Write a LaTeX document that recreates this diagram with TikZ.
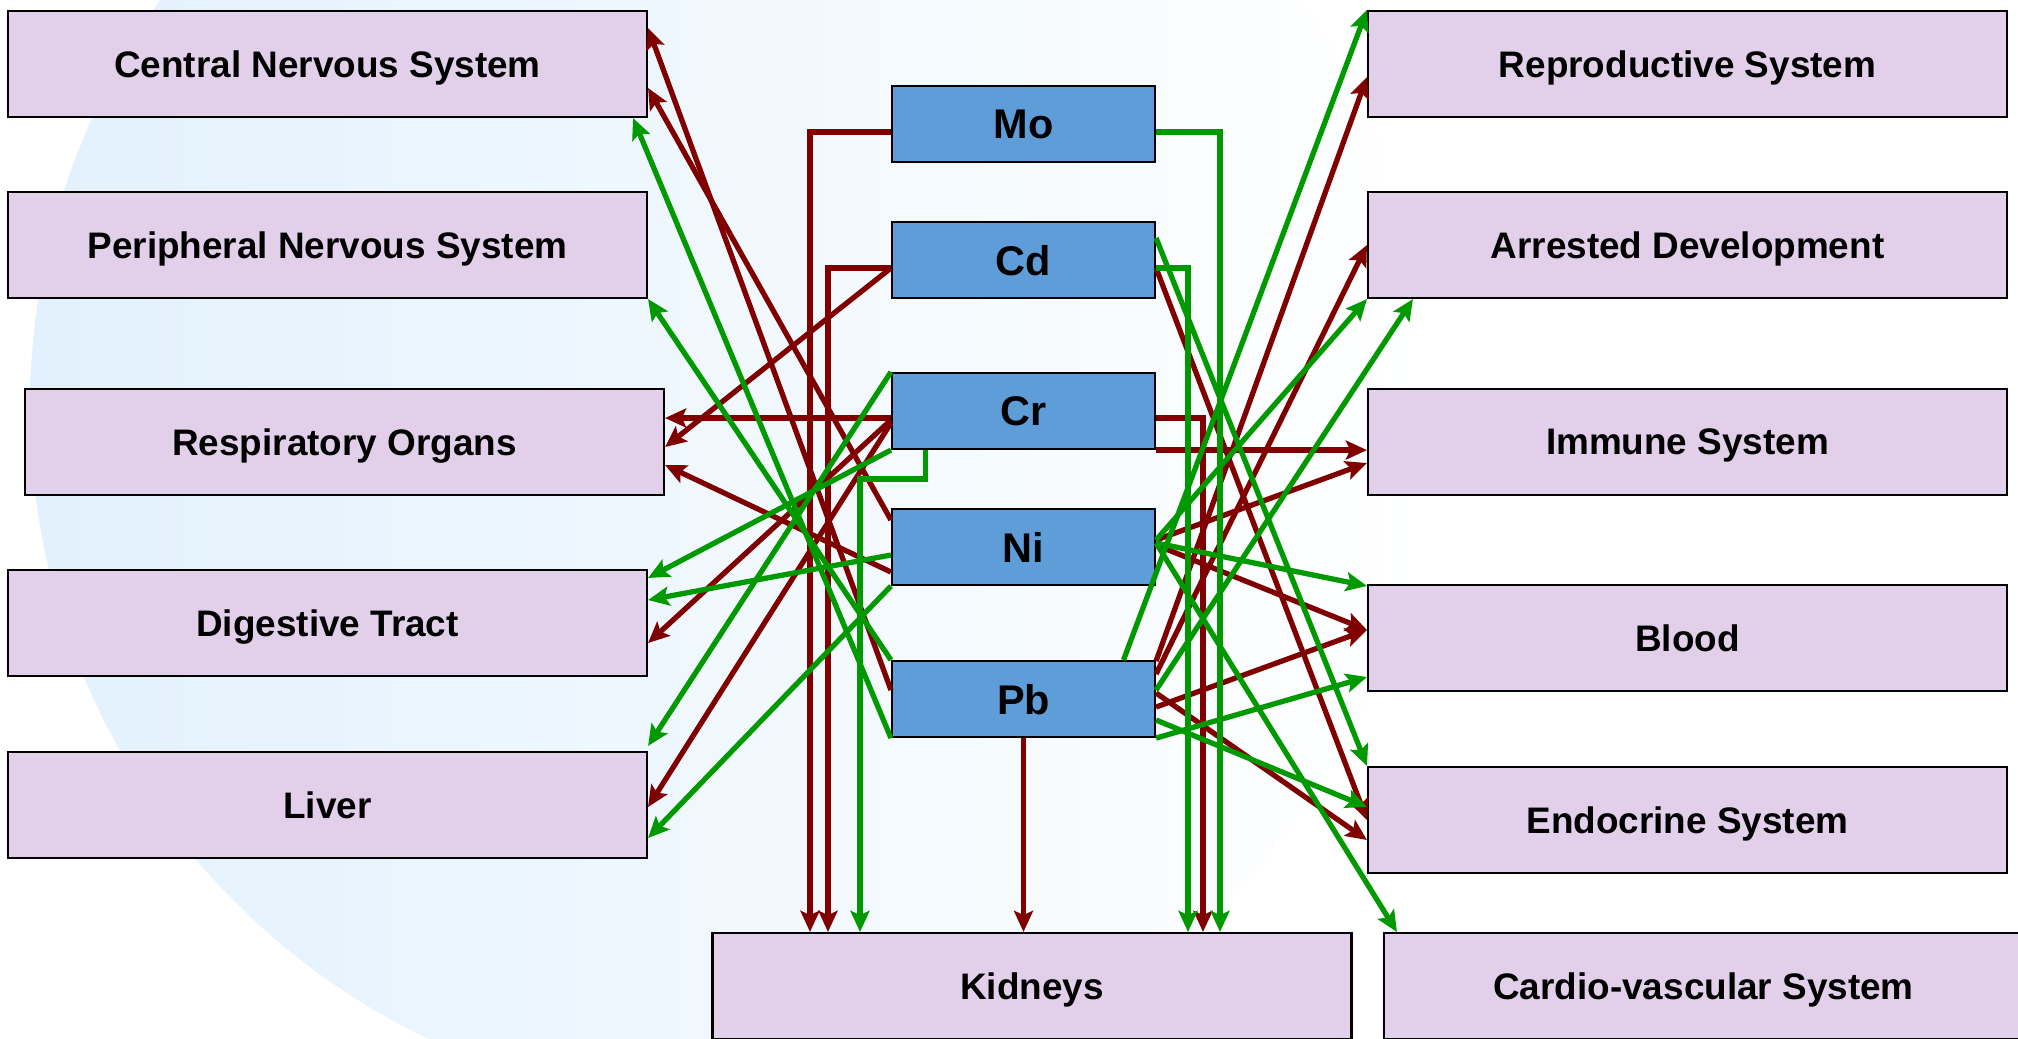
\documentclass[tikz,border=0pt]{standalone}
\usepackage{fontspec}
\setmainfont{Liberation Sans}
\usetikzlibrary{arrows.meta}

\begin{document}
\begin{tikzpicture}[
    organ/.style={draw=black, line width=0.6pt, fill=organfill, minimum width=6.39cm, minimum height=1.06cm, text depth=0pt, font=\fontsize{10.5}{12}\selectfont\bfseries},
    metal/.style={draw=black, line width=0.6pt, fill=metalfill, minimum width=2.63cm, minimum height=0.76cm, text depth=0pt, font=\fontsize{11.8}{13}\selectfont\bfseries},
    redlink/.style={draw=linkred, line width=1.5pt, -{Stealth[length=6pt,width=5.4pt,inset=1.2pt]}},
    greenlink/.style={draw=linkgreen, line width=1.5pt, -{Stealth[length=6pt,width=5.4pt,inset=1.2pt]}}
]

            % Define colors
            \definecolor{organfill}{RGB}{226,208,235}
            \definecolor{metalfill}{RGB}{95,157,217}
            \definecolor{linkred}{RGB}{128,0,0}
            \definecolor{linkgreen}{RGB}{0,153,0}
            \definecolor{bgblue}{RGB}{226,241,253}

            % Page and background disc
            \useasboundingbox (0,0) rectangle (20.18,-10.38);
            \clip (0,0) rectangle (20.18,-10.38);
            \fill[white] (0,0) rectangle (20.18,-10.38);
            \shade[left color=bgblue, right color=white] (7.30,-4.07) circle (7.0);

            % Organs on the left
            \node[organ] (CNS) at (3.275,-0.64) {Central Nervous System};
            \node[organ] (PNS) at (3.275,-2.45) {Peripheral Nervous System};
            \node[organ] (Resp) at (3.445,-4.42) {Respiratory Organs};
            \node[organ] (Dig) at (3.275,-6.23) {Digestive Tract};
            \node[organ] (Liver) at (3.275,-8.05) {Liver};

            % Organs on the right
            \node[organ] (Repro) at (16.875,-0.64) {Reproductive System};
            \node[organ] (Arr) at (16.875,-2.45) {Arrested Development};
            \node[organ] (Imm) at (16.875,-4.42) {Immune System};
            \node[organ] (Blood) at (16.875,-6.38) {Blood};
            \node[organ] (Endo) at (16.875,-8.20) {Endocrine System};

            % Organs at the bottom
            \node[organ] (Kid) at (10.32,-9.86) {Kidneys};
            \node[organ] (Cardio) at (17.035,-9.86) {Cardio-vascular System};

            % Metals
            \node[metal] (Mo) at (10.235,-1.24) {Mo};
            \node[metal] (Cd) at (10.235,-2.60) {Cd};
            \node[metal] (Cr) at (10.235,-4.11) {Cr};
            \node[metal] (Ni) at (10.235,-5.47) {Ni};
            \node[metal] (Pb) at (10.235,-6.99) {Pb};

            % Red links to the kidneys
            \draw[redlink] ([yshift=-0.08cm]Mo.west) -| ([xshift=-2.22cm]Kid.north);
            \draw[redlink] ([yshift=-0.08cm]Cd.west) -| ([xshift=-2.04cm]Kid.north);
            \draw[redlink] (Pb.south) -- (Pb.south |- Kid.north);
            \draw[redlink] ([yshift=-0.07cm]Cr.east) -| ([xshift=1.71cm]Kid.north);

            % Red links to the left
            \coordinate (crl) at ([yshift=-0.07cm]Cr.west);
            \draw[redlink] (crl) -- (crl -| Resp.east);
            \draw[redlink] ([yshift=-0.08cm]Cd.west) -- ([yshift=-0.05cm]Resp.east);
            \draw[redlink] ([yshift=-0.25cm]Ni.west) -- ([yshift=-0.23cm]Resp.east);
            \draw[redlink] ([yshift=-0.09cm]Cr.west) -- ([yshift=-0.20cm]Dig.east);
            \draw[redlink] ([yshift=-0.12cm]Cr.west) -- ([yshift=-0.02cm]Liver.east);
            \draw[redlink] ([yshift=0.09cm]Pb.west) -- ([yshift=0.36cm]CNS.east);
            \draw[redlink] ([yshift=0.27cm]Ni.west) -- ([yshift=-0.24cm]CNS.east);

            % Red links to the right
            \draw[redlink] ([yshift=0.38cm]Pb.east) -- ([yshift=-0.13cm]Repro.west);
            \draw[redlink] ([yshift=0.25cm]Pb.east) -- (Arr.west);
            \draw[redlink] (Cr.south east) -- (Cr.south east -| Imm.west);
            \draw[redlink] ([yshift=0.07cm]Ni.east) -- ([yshift=-0.21cm]Imm.west);
            \draw[redlink] ([yshift=0.02cm]Ni.east) -- ([yshift=0.08cm]Blood.west);
            \draw[redlink] ([yshift=-0.08cm]Pb.east) -- ([yshift=0.08cm]Blood.west);
            \draw[redlink] ([yshift=-0.08cm]Cd.east) -- (Endo.west);
            \draw[redlink] ([yshift=0.06cm]Pb.east) -- ([yshift=-0.20cm]Endo.west);

            % Green links to the kidneys
            \draw[greenlink] ([yshift=-0.08cm]Mo.east) -| ([xshift=1.88cm]Kid.north);
            \draw[greenlink] ([yshift=-0.08cm]Cd.east) -| ([xshift=1.56cm]Kid.north);
            \draw[greenlink] ([xshift=-0.98cm]Cr.south) -- ++(0,-0.29) -| ([xshift=-1.72cm]Kid.north);

            % Green links to the left
            \draw[greenlink] (Pb.south west) -- ([xshift=-0.15cm]CNS.south east);
            \draw[greenlink] (Pb.north west) -- (PNS.south east);
            \draw[greenlink] (Cr.south west) -- ([yshift=-0.09cm]Dig.north east);
            \draw[greenlink] ([yshift=-0.08cm]Ni.west) -- ([yshift=0.23cm]Dig.east);
            \draw[greenlink] (Cr.north west) -- ([yshift=0.05cm]Liver.north east);
            \draw[greenlink] (Ni.south west) -- ([yshift=-0.33cm]Liver.east);

            % Green links to the right
            \draw[greenlink] ([xshift=1.0cm]Pb.north) -- (Repro.north west);
            \draw[greenlink] ([yshift=0.07cm]Ni.east) -- (Arr.south west);
            \draw[greenlink] ([yshift=0.09cm]Pb.east) -- ([xshift=0.46cm]Arr.south west);
            \draw[greenlink] ([yshift=0.04cm]Ni.east) -- ([yshift=-0.02cm]Blood.north west);
            \draw[greenlink] (Pb.south east) -- ([yshift=-0.39cm]Blood.west);
            \draw[greenlink] ([yshift=0.22cm]Cd.east) -- (Endo.north west);
            \draw[greenlink] ([yshift=-0.21cm]Pb.east) -- ([yshift=0.13cm]Endo.west);
            \draw[greenlink] ([yshift=0.04cm]Ni.east) -- ([xshift=0.14cm]Cardio.north west);

\end{tikzpicture}
\end{document}
